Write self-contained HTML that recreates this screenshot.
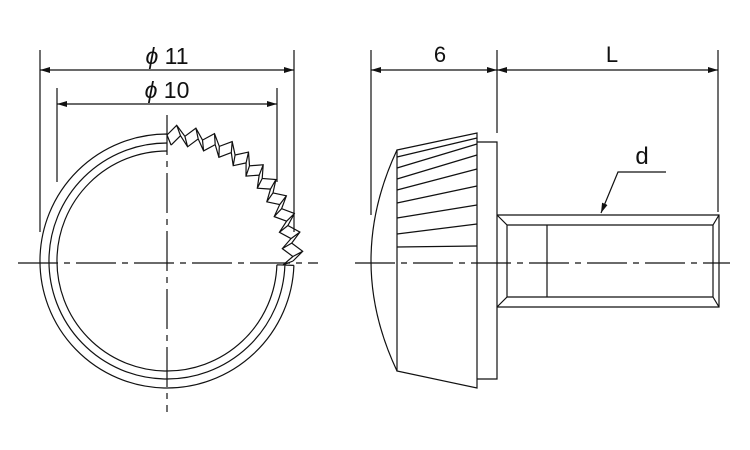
<!DOCTYPE html>
<html><head><meta charset="utf-8"><style>
html,body{margin:0;padding:0;background:#fff;}
svg{display:block}
text{font-family:"Liberation Sans",sans-serif;fill:#111}
</style></head><body>
<svg id="s" width="750" height="450" viewBox="0 0 750 450" xmlns="http://www.w3.org/2000/svg">
<defs><marker id="a" viewBox="0 0 10 6" refX="10" refY="3" markerWidth="10" markerHeight="6" orient="auto-start-reverse" markerUnits="userSpaceOnUse"><path d="M0,0L10,3L0,6z" fill="#111"/></marker></defs>
<g stroke="#111" stroke-width="1.2" fill="none">
<path d="M18,263H318M355,263H730" stroke-dasharray="40,6,6,6"/>
<path d="M167,115V412" stroke-dasharray="40,6,6,6"/>
<path d="M40,50V232M294,50V232M57,88V182M277,88V182"/>
<path d="M40,70H294" marker-start="url(#a)" marker-end="url(#a)"/>
<path d="M57,104H277" marker-start="url(#a)" marker-end="url(#a)"/>
<path d="M371,50V215M497,50V133M718,50V212"/>
<path d="M371,70H497" marker-start="url(#a)" marker-end="url(#a)"/>
<path d="M497,70H718" marker-start="url(#a)" marker-end="url(#a)"/>
<path d="M397,150Q345,261 397,371"/>
<path d="M397,150L477,133V388L397,371Z"/>
<path d="M477,142H497V379H477"/>
<path d="M397,157L477,138M397,168L477,144M397,179L477,155M397,190L477,169M397,203L477,186M397,218L477,205M397,234L477,224M397,247L477,246"/>
<path d="M497,215H719V307H497M507,225H713M507,297H713M497,215L507,225V297L497,307M719,215L713,225V297L719,307M547,225V297"/>
<path d="M666,172H618L601,213" marker-end="url(#a)"/>
<g id="ring"></g>
</g>
<text x="167" y="64" font-size="23" text-anchor="middle"><tspan font-style="italic">ϕ</tspan> 11</text>
<text x="167" y="98" font-size="23" text-anchor="middle"><tspan font-style="italic">ϕ</tspan> 10</text>
<text x="440" y="62" font-size="22" text-anchor="middle">6</text>
<text x="612" y="62" font-size="22" text-anchor="middle">L</text>
<text x="642" y="164" font-size="24" text-anchor="middle">d</text>
</svg>
<script>
var cx=167,cy=261,g=document.getElementById('ring'),d='';
function P(r,a){a=a*Math.PI/180;return (cx+r*Math.cos(a)).toFixed(1)+','+(cy-r*Math.sin(a)).toFixed(1);}
[127,118,110].forEach(function(r){d+='M'+P(r,90)+'A'+r+','+r+' 0 1 0 '+P(r,-2);});
d+='M'+P(110,-2)+'L'+P(127,-2);
var n=11,s=90/n,A='',B='';
for(var i=0;i<=n*2;i++){var ang=90-i*s/2;var r=(i%2==0)?126:136;A+=(i?'L':'M')+P(r,ang);B+=(i?'L':'M')+P(r-10,ang-s/4);}
d+=A+B;
for(var i=0;i<=n*2;i++){var ang=90-i*s/2;var r=(i%2==0)?126:136;d+='M'+P(r,ang)+'L'+P(r-10,ang-s/4);}
var p=document.createElementNS('http://www.w3.org/2000/svg','path');p.setAttribute('d',d);g.appendChild(p);
</script>
</body></html>
